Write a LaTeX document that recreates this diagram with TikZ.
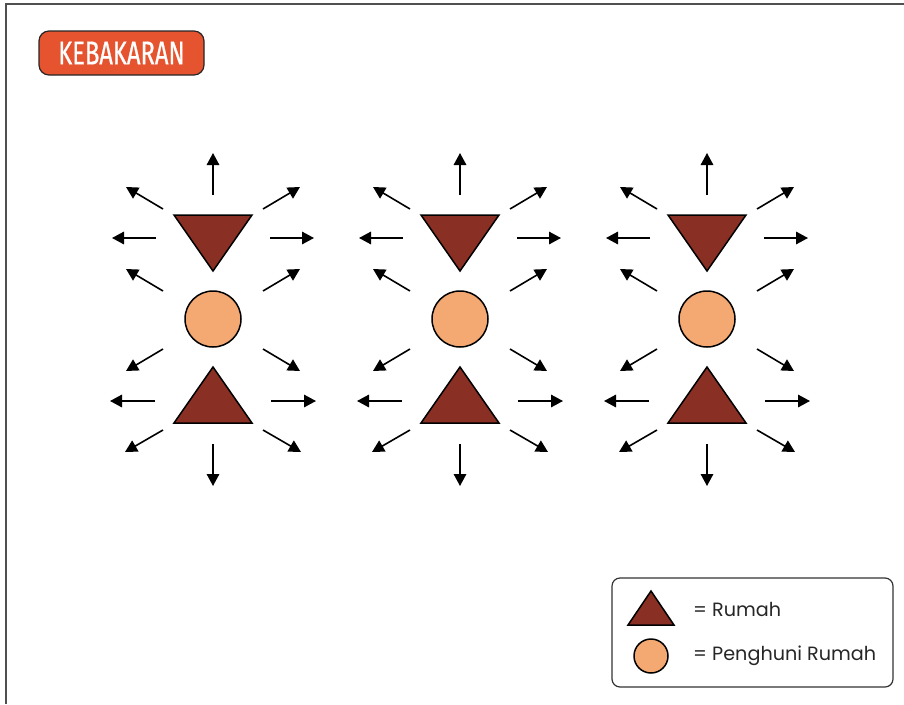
\documentclass[tikz,border=0pt]{standalone}
\usepackage{fontspec}
\usetikzlibrary{arrows.meta}
\newfontfamily\legendfont{Poppins}
\newfontfamily\titlefont[FakeStretch=0.72,FakeBold=0.6]{Fira Sans}
\definecolor{house}{HTML}{8A2F23}
\definecolor{resident}{HTML}{F4A872}
\definecolor{badge}{HTML}{E5532F}
\definecolor{framegray}{HTML}{505050}
\tikzset{
  house/.style={fill=house,draw=black,line width=1.5pt,line join=miter},
  resident/.style={circle,fill=resident,draw=black,line width=1.5pt,inner sep=0pt},
  flee/.style={line width=1.6pt,-{Triangle[length=12pt,width=12.5pt]}},
  legendtext/.style={anchor=west,inner sep=0pt,font=\legendfont\fontsize{19.2}{21}\selectfont,text=black!85},
}
\begin{document}
\begin{tikzpicture}[x=1pt,y=-1pt]
\useasboundingbox (0,0) rectangle (904,704);
% outer frame
\draw[framegray,line width=2pt] (6,704) -- (6,4) -- (904,4);
% title badge
\node[fill=badge,draw=black!85,line width=1.2pt,rounded corners=10pt,
      minimum width=165pt,minimum height=44pt,inner sep=0pt,
      text=white,font=\titlefont\fontsize{33}{35}\selectfont] (title) at (121.5,53) {KEBAKARAN};
% three houses with residents and the escape directions
\foreach \cx [count=\i] in {213,460,707} {
  \begin{scope}[shift={(\cx,0)}]
    \draw[house] (-39,215) -- (39,215) -- (0,271) -- cycle;
    \node[resident,minimum size=56pt] (res\i) at (0,319) {};
    \draw[house] (0,367) -- (39,423) -- (-39,423) -- cycle;
    % arrows pointing away
    \draw[flee] (0,195) -- (0,153);
    \draw[flee] (0,444) -- (0,486);
    \foreach \s in {-1,1} {
      \draw[flee] (\s*50,209) -- (\s*87,187);
      \draw[flee] (\s*57,238) -- (\s*101,238);
      \draw[flee] (\s*50,291) -- (\s*87,269);
      \draw[flee] (\s*50,349) -- (\s*87,371);
      \draw[flee] (\s*58,401) -- (\s*103,401);
      \draw[flee] (\s*50,430) -- (\s*88,452);
    }
  \end{scope}
}
% legend
\draw[black!80,line width=1.2pt,rounded corners=8pt] (612,578) rectangle (893,687);
\draw[house] (651,591) -- (674,625) -- (628,625) -- cycle;
\node[resident,minimum size=34pt] (legres) at (651,656) {};
\node[legendtext] (lgA) at (693,609) {= Rumah};
\node[legendtext] (lgB) at (693,656) {= Penghuni Rumah};
\end{tikzpicture}
\end{document}
